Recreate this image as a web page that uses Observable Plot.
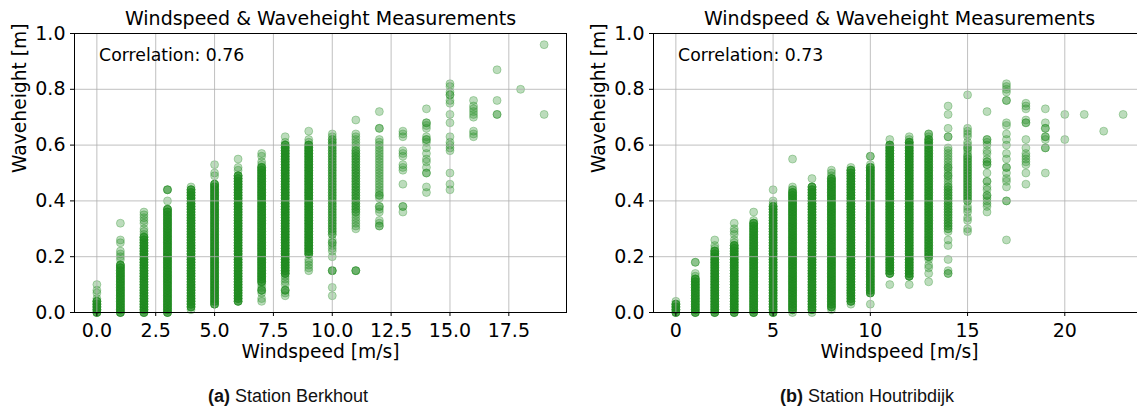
<!DOCTYPE html>
<html>
<head>
<meta charset="utf-8">
<script src="https://cdn.jsdelivr.net/npm/d3@7"></script>
<script src="https://cdn.jsdelivr.net/npm/@observablehq/plot@0.6"></script>
<style>
  body { margin: 0; background: white; }
  #wrap { position: relative; width: 1137px; height: 408px; overflow: hidden; background: white; }
  .panel { position: absolute; top: 0; width: 580px; height: 372px; }
  .panel svg { max-width: none !important; width: 580px; height: 372px; }
  .cap { position: absolute; top: 387px; width: 400px; text-align: center; font-family: "Liberation Sans", Arial, sans-serif; font-size: 18px; line-height: 18px; color: #111; }
</style>
</head>
<body>
<div id="wrap">
  <div id="pa" class="panel" style="left:0px"></div>
  <div id="pb" class="panel" style="left:579px"></div>
  <div class="cap" style="left:88px"><b>(a)</b> Station Berkhout</div>
  <div class="cap" style="left:667px"><b>(b)</b> Station Houtribdijk</div>
</div>
<script>
// ---------- Station Berkhout (a) ----------
const windA = [0,1,2,3,4,5,6,7,8,9,10,11,12,13,14,15,16,17,18,19];
// dense (near-continuous) waveheight ranges per windspeed, at 0.01 m resolution
const denseLoA = [0.00,0.00,0.00,0.00,0.02,0.03,0.04,0.11,0.14,0.21,0.28,0.36,null,null,null,null,null,null,null,null];
const denseHiA = [0.04,0.17,0.27,0.37,0.44,0.46,0.49,0.52,0.60,0.60,0.62,0.58,null,null,null,null,null,null,null,null];
const denseCountA = [4,4,4,4,4,4,4,4,4,4,2,2,0,0,0,0,0,0,0,0];
// individually visible measurements per windspeed
const sparseA = [
  [0.05,0.07,0.08,0.10],
  [0.19,0.20,0.21,0.22,0.25,0.26,0.32],
  [0.28,0.29,0.30,0.32,0.33,0.34,0.35,0.36],
  [0.40,0.44,0.44,0.44],
  [0.01,0.45],
  [0.49,0.50,0.53],
  [0.51,0.52,0.55],
  [0.04,0.05,0.07,0.08,0.08,0.08,0.09,0.10,0.53,0.54,0.56,0.57],
  [0.06,0.07,0.08,0.08,0.08,0.10,0.11,0.12,0.13,0.61,0.63],
  [0.15,0.16,0.17,0.18,0.19,0.61,0.62,0.65],
  [0.06,0.09,0.15,0.15,0.15,0.20,0.22,0.23,0.24,0.25,0.25,0.26,0.63,0.64],
  [0.15,0.15,0.15,0.30,0.31,0.32,0.33,0.34,0.35,0.59,0.60,0.61,0.62,0.63,0.64,0.69],
  [0.31,0.31,0.32,0.33,0.36,0.37,0.38,0.38,0.41,0.42,0.42,0.43,0.44,0.45,0.46,0.47,0.48,0.49,0.50,0.51,0.52,0.53,0.54,0.55,0.56,0.57,0.58,0.59,0.60,0.61,0.62,0.66,0.66,0.72],
  [0.36,0.38,0.38,0.46,0.51,0.52,0.53,0.56,0.57,0.58,0.63,0.64,0.65],
  [0.43,0.45,0.50,0.50,0.52,0.54,0.55,0.57,0.59,0.61,0.62,0.62,0.63,0.66,0.67,0.68,0.68,0.73],
  [0.44,0.46,0.50,0.58,0.59,0.60,0.61,0.63,0.68,0.71,0.75,0.76,0.78,0.78,0.79,0.81,0.82],
  [0.63,0.64,0.65,0.70,0.71,0.72,0.73,0.74,0.76],
  [0.71,0.71,0.76,0.87],
  [0.80],
  [0.71,0.96]
];
const corrA = "Correlation: 0.76";
const xTicksA = [0,2.5,5,7.5,10,12.5,15,17.5];

// ---------- Station Houtribdijk (b) ----------
const windB = [0,1,2,3,4,5,6,7,8,9,10,11,12,13,14,15,16,17,18,19,20,21,22,23];
const denseLoB = [0.00,0.00,0.00,0.00,0.00,0.00,0.01,0.01,0.02,0.04,0.07,0.14,0.13,0.20,0.30,0.40,null,null,null,null,null,null,null,null];
const denseHiB = [0.03,0.12,0.22,0.24,0.32,0.38,0.43,0.45,0.48,0.51,0.52,0.60,0.61,0.62,0.45,0.56,null,null,null,null,null,null,null,null];
const denseCountB = [4,4,4,4,4,4,4,4,4,4,4,4,4,3,2,2,0,0,0,0,0,0,0,0];
const sparseB = [
  [0.04],
  [0.13,0.14,0.18,0.18],
  [0.23,0.24,0.26],
  [0.25,0.26,0.28,0.29,0.30,0.32],
  [0.33,0.36],
  [0.39,0.40,0.44],
  [0.00,0.44,0.44,0.45,0.55],
  [0.00,0.48],
  [0.01,0.49,0.50,0.51],
  [0.03,0.52],
  [0.03,0.53,0.56,0.56],
  [0.10,0.62],
  [0.10,0.62,0.63],
  [0.11,0.14,0.16,0.17,0.19,0.63,0.64,0.64],
  [0.14,0.14,0.15,0.19,0.24,0.26,0.29,0.46,0.47,0.48,0.49,0.49,0.50,0.51,0.52,0.52,0.53,0.54,0.55,0.56,0.57,0.58,0.59,0.63,0.63,0.66,0.71,0.74],
  [0.29,0.30,0.33,0.34,0.36,0.37,0.38,0.57,0.58,0.59,0.59,0.60,0.61,0.63,0.64,0.65,0.66,0.78],
  [0.36,0.38,0.39,0.40,0.41,0.42,0.42,0.44,0.45,0.47,0.47,0.50,0.53,0.53,0.54,0.54,0.55,0.57,0.58,0.60,0.61,0.62,0.62,0.72],
  [0.26,0.40,0.40,0.45,0.47,0.48,0.50,0.52,0.52,0.55,0.57,0.60,0.62,0.64,0.67,0.68,0.76,0.76,0.79,0.80,0.81,0.82],
  [0.46,0.50,0.53,0.54,0.55,0.56,0.57,0.59,0.62,0.68,0.68,0.69,0.73,0.74,0.75],
  [0.50,0.59,0.59,0.62,0.63,0.63,0.66,0.66,0.68,0.73],
  [0.62,0.71],
  [0.71],
  [0.65],
  [0.71]
];
const corrB = "Correlation: 0.73";
const xTicksB = [0,5,10,15,20];

const yTicks = [0,0.2,0.4,0.6,0.8,1.0];
const title = "Windspeed & Waveheight Measurements";
const xLabel = "Windspeed [m/s]";
const yLabel = "Waveheight [m]";

function buildRows(wind, lo, hi, cnt, sparse) {
  const rows = [];
  wind.forEach((w, i) => {
    if (lo[i] != null) {
      const a = Math.round(lo[i] * 100), b = Math.round(hi[i] * 100);
      for (let c = a; c <= b; c++) {
        for (let k = 0; k < cnt[i]; k++) rows.push({w, h: c / 100});
      }
    }
    for (const h of sparse[i]) rows.push({w, h});
  });
  return rows;
}

const GREEN = "#228b22";
const GRID = {stroke: "#b0b0b0", strokeOpacity: 1, strokeWidth: 0.8};

function panel(rows, xDomain, xTicks, xFmt, corr) {
  return Plot.plot({
    width: 580, height: 372,
    marginLeft: 74, marginRight: 14, marginTop: 33, marginBottom: 60,
    x: {domain: xDomain},
    y: {domain: [0, 1]},
    style: {fontFamily: "DejaVu Sans", fontSize: "19px", color: "black", background: "white", overflow: "visible"},
    marks: [
      Plot.dot(rows, {x: "w", y: "h", r: 4, fill: GREEN, fillOpacity: 0.3, stroke: GREEN, strokeOpacity: 0.3, strokeWidth: 1}),
      Plot.gridX(xTicks, GRID),
      Plot.gridY(yTicks, GRID),
      Plot.frame({stroke: "black", strokeWidth: 1}),
      Plot.axisX(xTicks, {tickFormat: xFmt, tickSize: 4, tickPadding: 7, label: null, fontSize: 19}),
      Plot.axisY(yTicks, {tickFormat: ".1f", tickSize: 4, tickPadding: 5, label: null, fontSize: 19}),
      Plot.text([title], {text: d => d, frameAnchor: "top", lineAnchor: "middle", dy: -14.1, fontSize: 19, fill: "black"}),
      Plot.text([corr], {text: d => d, frameAnchor: "top-left", lineAnchor: "middle", textAnchor: "start", dx: 24.6, dy: 22.2, fontSize: 17.3, fill: "black"}),
      Plot.text([xLabel], {text: d => d, frameAnchor: "bottom", lineAnchor: "middle", dy: 40, fontSize: 18.7, fill: "black"}),
      Plot.text([yLabel], {text: d => d, frameAnchor: "left", lineAnchor: "middle", rotate: -90, dx: -54, fontSize: 18.7, fill: "black"})
    ]
  });
}

const rowsA = buildRows(windA, denseLoA, denseHiA, denseCountA, sparseA);
const rowsB = buildRows(windB, denseLoB, denseHiB, denseCountB, sparseB);

document.getElementById("pa").append(panel(rowsA, [-0.95, 19.95], xTicksA, ".1f", corrA));
document.getElementById("pb").append(panel(rowsB, [-1.15, 24.15], xTicksB, "d", corrB));
</script>
</body>
</html>
